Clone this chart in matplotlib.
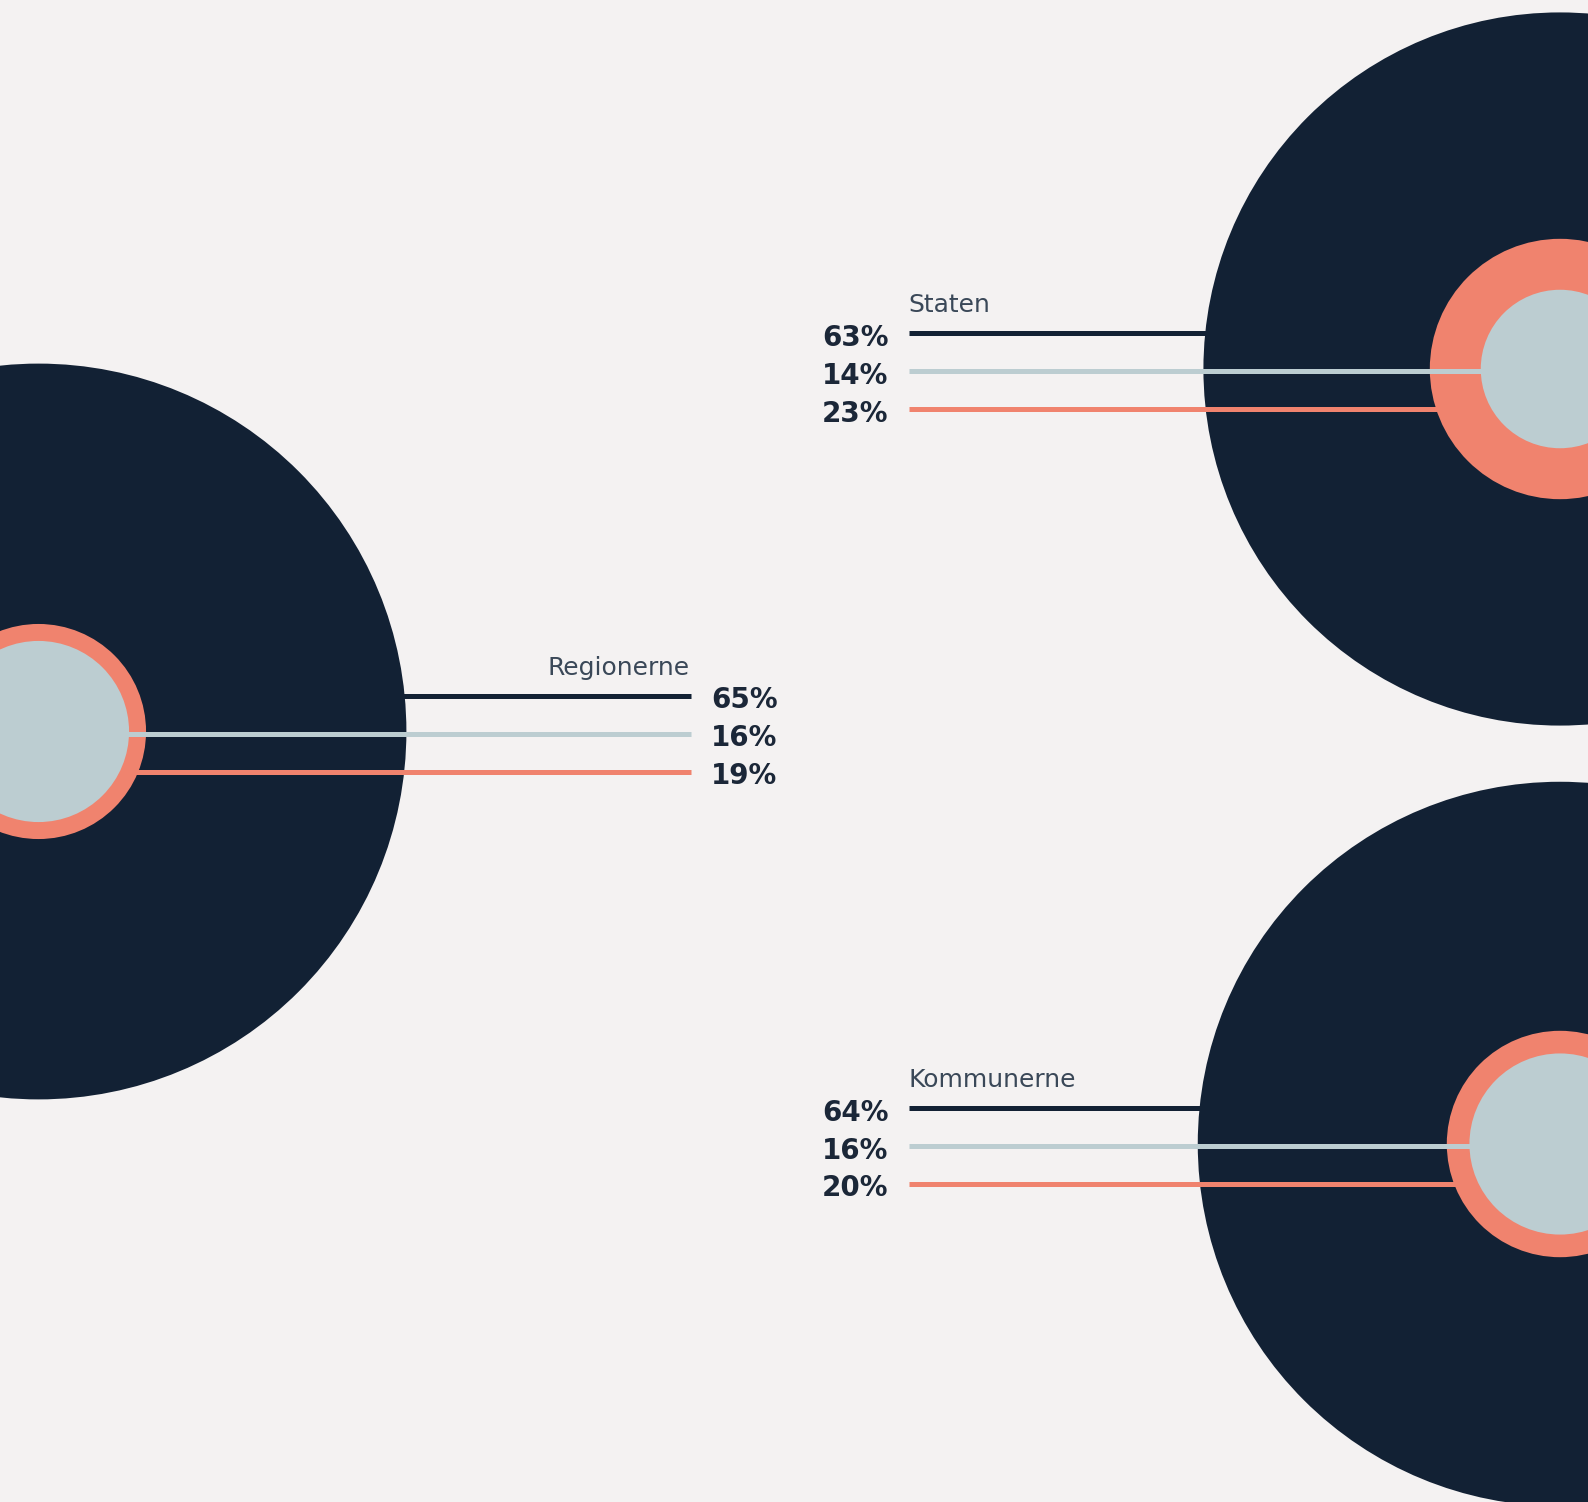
import matplotlib
matplotlib.use("Agg")
import matplotlib.pyplot as plt
from matplotlib.patches import Circle

# ---- data ----
entities = ["Staten", "Regionerne", "Kommunerne"]
dark_vals = [63, 65, 64]
light_vals = [14, 16, 16]
orange_vals = [23, 19, 20]

# ---- style / layout ----
W, H = 1588, 1502
BG = "#f4f2f2"
DARK = "#122134"
LIGHT = "#bccdd1"
ORANGE = "#f0836e"
TXT = "#1b2738"
TITLE = "#3a4858"
K = 5.66  # px per percent (radius)

centers = [(1560, 369), (38.5, 731.5), (1560, 1144)]
sides = ["left", "right", "left"]
line_ends = [908.5, 691, 908.5]
offsets = [-35.7, 2.2, 40.0]

fig = plt.figure(figsize=(W / 100, H / 100), dpi=100, facecolor=BG)
ax = fig.add_axes([0, 0, 1, 1])
ax.set_xlim(0, W)
ax.set_ylim(H, 0)
ax.set_aspect("equal")
ax.axis("off")
ax.set_facecolor(BG)

lw = 5 * 72 / 100

for name, d, l, o, (cx, cy), side, xe in zip(entities, dark_vals, light_vals,
                                              orange_vals, centers, sides, line_ends):
    ax.plot([xe, cx], [cy + offsets[0]] * 2, color=DARK, lw=lw, solid_capstyle="butt", zorder=1)
    ax.add_patch(Circle((cx, cy), d * K, color=DARK, lw=0, zorder=2))
    ax.plot([xe, cx], [cy + offsets[2]] * 2, color=ORANGE, lw=lw, solid_capstyle="butt", zorder=3)
    ax.add_patch(Circle((cx, cy), o * K, color=ORANGE, lw=0, zorder=4))
    ax.plot([xe, cx], [cy + offsets[1]] * 2, color=LIGHT, lw=lw, solid_capstyle="butt", zorder=5)
    ax.add_patch(Circle((cx, cy), l * K, color=LIGHT, lw=0, zorder=6))

    vals = [d, l, o]
    if side == "left":
        tx, ha = xe - 20, "right"
        title_x, title_ha = xe, "left"
    else:
        tx, ha = xe + 20, "left"
        title_x, title_ha = xe - 1, "right"
    for v, off in zip(vals, offsets):
        ax.text(tx, cy + off + 1.5, f"{v}%", ha=ha, va="center_baseline",
                fontsize=20, fontweight="bold", color=TXT,
                family=["DejaVu Sans"], zorder=10)
    ax.text(title_x, cy + offsets[0] - 21, name, ha=title_ha, va="baseline",
            fontsize=18, fontweight="normal", color=TITLE,
            family=["DejaVu Sans"], zorder=10)

fig.savefig("out.png", dpi=100, facecolor=BG)
